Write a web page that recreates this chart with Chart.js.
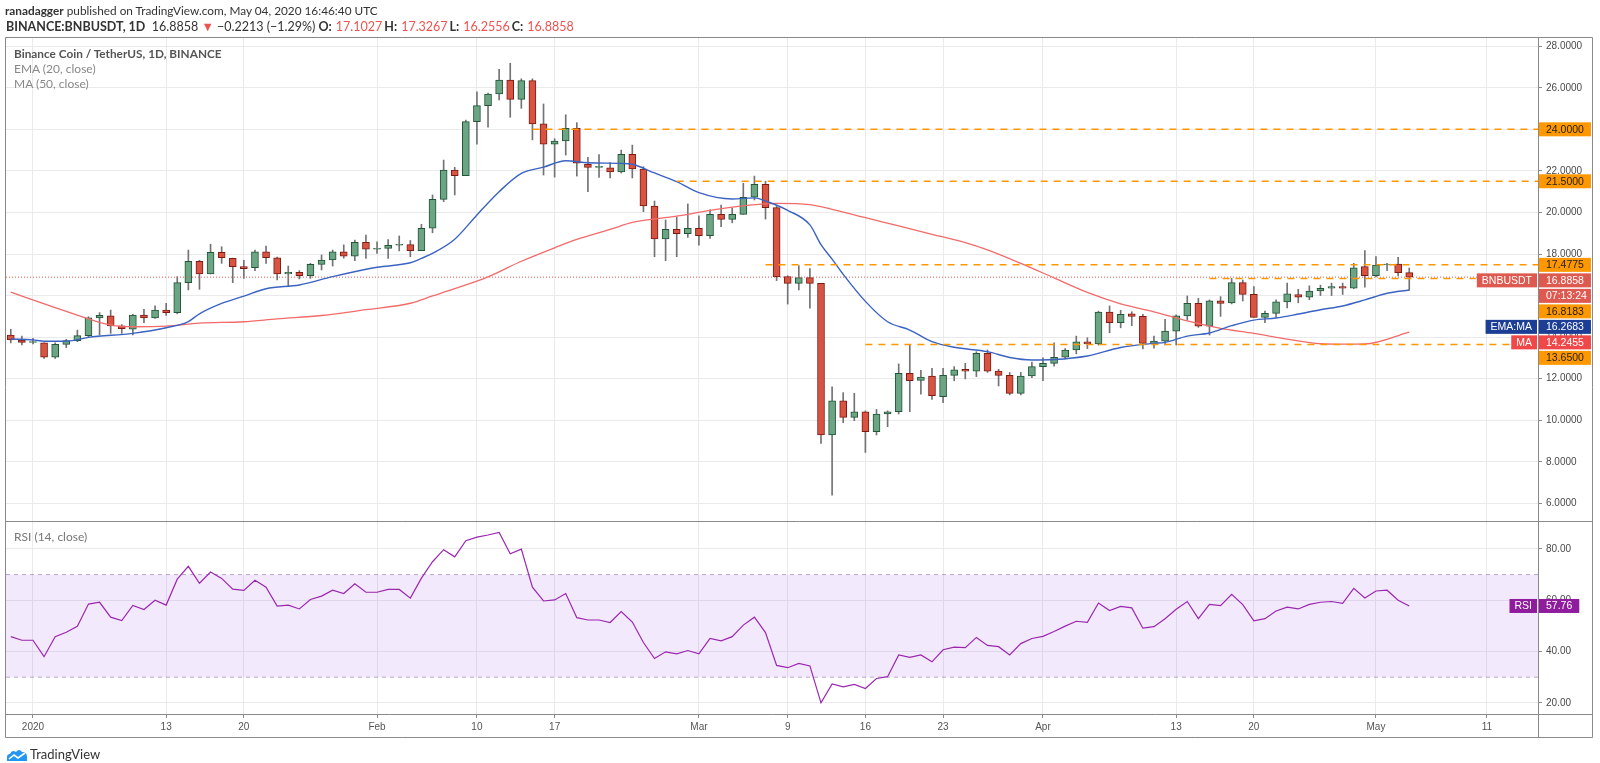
<!DOCTYPE html>
<html>
<head>
<meta charset="utf-8">
<title>BNBUSDT 1D</title>
<script src="https://cdn.jsdelivr.net/npm/chart.js@4.4.1/dist/chart.umd.min.js"></script>
<style>
  html, body { margin: 0; padding: 0; background: #fff; }
  #wrap { position: relative; width: 1600px; height: 763px; overflow: hidden; font-family: Lato, "Open Sans", sans-serif; color: #333; }
  #chart { position: absolute; left: 0; top: 0; }
  .txt { position: absolute; white-space: nowrap; line-height: 14px; font-size: 12px; }
  .red { color: #ef5350; }
  .v { color: #ef5350; margin-left: 4px; margin-right: 2px; }
</style>
</head>
<body>
<div id="wrap">
  <canvas id="chart" width="1600" height="763"></canvas>
  <div class="txt" style="left:5px;top:4px;font-size:11.8px;"><b>ranadagger</b> published on TradingView.com, May 04, 2020 16:46:40 UTC</div>
  <div class="txt" style="left:6px;top:20px;font-size:12.5px;"><b>BINANCE:BNBUSDT, 1D</b>&nbsp; 16.8858 <span class="red">▼</span> −0.2213 (−1.29%) <b>O:</b><span class="v">17.1027</span><b>H:</b><span class="v">17.3267</span><b>L:</b><span class="v">16.2556</span><b>C:</b><span class="v">16.8858</span></div>
  <div class="txt" style="left:14px;top:47px;font-weight:bold;color:#555;font-size:11.8px;">Binance Coin / TetherUS, 1D, BINANCE</div>
  <div class="txt" style="left:14px;top:62px;color:#888;">EMA (20, close)</div>
  <div class="txt" style="left:14px;top:77px;color:#888;">MA (50, close)</div>
  <div class="txt" style="left:14px;top:530px;color:#777;">RSI (14, close)</div>
  <div class="txt" style="left:6px;top:747px;font-size:13px;color:#333;"><svg width="22" height="14" viewBox="0 0 22 14" style="vertical-align:-3px;margin-right:2px"><path d="M1 13 L1 9 Q1 6 4 6 Q6 1 10 4 Q13 0 16 4 Q21 4 21 9 L21 13 Z" fill="#2196f3"/><path d="M3 11 L8 7 L12 10 L19 5" stroke="#fff" stroke-width="1.6" fill="none"/></svg>TradingView</div>
</div>
<script>
// days counted from Jan 1, 2020; first candle is Dec 30, 2019
const day0 = -2;

const opens = [
  14.10, 13.86, 13.74, 13.72, 13.03, 13.65, 13.83, 14.07, 14.93, 15.02,
  14.54, 14.38, 15.06, 14.93, 15.30, 15.18, 16.62, 17.65, 17.04, 18.08,
  17.79, 17.39, 17.34, 18.11, 17.82, 17.04, 17.12, 16.96, 17.50, 17.71,
  18.10, 17.90, 18.56, 18.23, 18.27, 18.42, 18.45, 18.16, 19.24, 20.63,
  22.04, 21.77, 24.37, 25.14, 25.70, 26.37, 25.44, 26.34, 24.26, 23.29,
  23.44, 24.05, 22.32, 22.17, 22.15, 21.95, 22.80, 22.09, 20.31, 18.72,
  19.19, 18.98, 19.24, 18.88, 19.91, 19.67, 19.91, 20.73, 21.35, 20.23,
  16.91, 16.59, 16.86, 16.59, 9.29, 10.93, 10.14, 10.41, 9.45, 10.30,
  10.41, 12.26, 11.92, 12.13, 11.13, 12.16, 12.45, 12.36, 13.22, 12.36,
  12.16, 11.29, 12.13, 12.58, 12.74, 13.03, 13.38, 13.77, 13.67, 15.21,
  14.70, 15.12, 15.00, 13.70, 13.81, 14.29, 15.02, 15.63, 14.53, 15.75,
  15.65, 16.62, 16.06, 14.95, 15.14, 15.70, 16.05, 15.92, 16.22, 16.35,
  16.43, 16.35, 17.39, 16.96, 17.47, 17.52, 17.1027
];
const highs = [
  14.38, 14.05, 13.94, 13.72, 13.72, 13.89, 14.34, 14.98, 15.18, 15.30,
  14.60, 15.10, 15.34, 15.50, 15.63, 16.91, 18.19, 17.70, 18.47, 18.35,
  17.80, 17.70, 18.19, 18.38, 17.85, 17.42, 17.20, 17.55, 17.95, 18.19,
  18.44, 18.67, 18.91, 18.59, 18.70, 18.87, 18.65, 19.43, 20.84, 22.52,
  22.17, 24.45, 25.81, 25.75, 26.89, 27.18, 26.43, 26.43, 25.22, 23.55,
  24.70, 24.32, 22.65, 22.79, 22.40, 23.00, 23.24, 22.20, 20.55, 19.64,
  19.77, 20.41, 19.84, 20.12, 20.36, 20.20, 21.40, 21.75, 21.50, 20.35,
  16.95, 17.44, 17.30, 16.59, 11.61, 11.33, 11.30, 10.45, 10.52, 10.45,
  12.71, 13.65, 12.40, 12.50, 12.50, 12.58, 12.74, 13.30, 13.38, 12.45,
  12.30, 12.30, 12.80, 13.00, 13.73, 13.45, 14.05, 13.97, 15.25, 15.50,
  15.29, 15.22, 15.10, 14.05, 14.86, 15.07, 15.98, 15.87, 15.79, 15.95,
  16.83, 16.75, 16.43, 15.25, 15.80, 16.60, 16.30, 16.47, 16.50, 16.60,
  16.60, 17.55, 18.16, 17.87, 17.55, 17.84, 17.3267
];
const lows = [
  13.72, 13.62, 13.67, 12.98, 12.98, 13.49, 13.78, 14.02, 14.10, 14.18,
  14.18, 14.10, 14.69, 14.90, 15.05, 15.12, 16.27, 16.30, 17.04, 17.55,
  16.62, 16.83, 17.20, 17.55, 16.75, 16.43, 16.80, 16.83, 17.23, 17.42,
  17.80, 17.68, 17.79, 18.03, 17.79, 18.15, 17.87, 18.16, 19.02, 20.52,
  20.84, 21.77, 23.29, 24.10, 25.41, 24.58, 25.01, 23.49, 21.80, 21.70,
  22.76, 21.75, 21.00, 21.68, 21.66, 21.90, 21.66, 20.04, 17.87, 17.68,
  17.87, 18.80, 18.43, 18.75, 19.31, 19.50, 19.91, 20.60, 19.68, 16.72,
  15.59, 16.27, 15.39, 8.89, 6.40, 9.88, 9.98, 8.45, 9.29, 9.69,
  10.30, 10.41, 11.26, 11.00, 10.84, 11.90, 11.99, 12.10, 12.30, 11.65,
  11.22, 11.22, 12.05, 11.90, 12.60, 12.95, 13.20, 13.45, 13.62, 14.21,
  14.45, 14.55, 13.43, 13.47, 13.62, 13.62, 14.82, 14.47, 14.10, 15.00,
  15.60, 15.74, 14.95, 14.70, 14.95, 15.40, 15.65, 15.80, 16.00, 16.00,
  16.05, 16.33, 16.40, 16.90, 17.20, 16.95, 16.2556
];
const closes = [
  13.86, 13.74, 13.78, 13.03, 13.65, 13.83, 14.07, 14.93, 15.05, 14.54,
  14.41, 15.06, 14.93, 15.30, 15.18, 16.62, 17.65, 17.04, 18.08, 17.82,
  17.39, 17.29, 18.11, 17.82, 17.04, 17.12, 16.96, 17.50, 17.71, 18.10,
  17.90, 18.56, 18.23, 18.27, 18.42, 18.45, 18.16, 19.24, 20.63, 22.04,
  21.77, 24.37, 25.14, 25.70, 26.37, 25.44, 26.34, 24.26, 23.29, 23.44,
  24.05, 22.37, 22.17, 22.17, 21.95, 22.80, 22.09, 20.31, 18.72, 19.19,
  18.98, 19.24, 18.88, 19.91, 19.67, 19.91, 20.73, 21.35, 20.23, 16.91,
  16.59, 16.86, 16.59, 9.29, 10.93, 10.14, 10.41, 9.45, 10.30, 10.41,
  12.26, 11.90, 12.08, 11.18, 12.16, 12.42, 12.36, 13.22, 12.36, 12.16,
  11.29, 12.13, 12.58, 12.74, 13.03, 13.38, 13.77, 13.67, 15.21, 14.70,
  15.10, 15.00, 13.70, 13.81, 14.29, 15.02, 15.63, 14.53, 15.75, 15.62,
  16.62, 16.06, 14.95, 15.14, 15.70, 16.08, 15.92, 16.22, 16.35, 16.43,
  16.35, 17.34, 16.96, 17.47, 17.51, 17.10, 16.8858
];

// RSI (14, close), one value per candle
const rsiVals = [
  45.8, 44.4, 44.4, 38.0, 45.8, 47.5, 49.8, 58.5, 59.2, 53.4,
  52.1, 58.0, 56.4, 60.0, 58.1, 68.2, 73.2, 66.6, 71.0, 68.5,
  64.3, 63.8, 67.8, 65.1, 57.7, 58.1, 56.6, 60.3, 61.6, 63.9,
  62.6, 66.4, 63.1, 63.1, 64.2, 64.2, 60.8, 68.6, 75.0, 79.7,
  76.9, 83.2, 84.6, 85.4, 86.4, 78.1, 79.9, 65.1, 59.7, 60.1,
  62.6, 53.2, 52.3, 52.3, 51.3, 55.6, 51.5, 43.5, 37.3, 39.9,
  39.1, 40.4, 39.1, 45.1, 44.2, 45.8, 50.3, 53.4, 47.4, 34.6,
  33.7, 35.4, 34.4, 20.0, 27.4, 26.2, 27.2, 25.6, 29.5, 30.2,
  38.7, 37.7, 38.7, 36.0, 40.7, 41.7, 41.5, 45.5, 42.4, 41.9,
  38.7, 43.1, 45.1, 45.9, 47.8, 49.9, 51.8, 51.4, 58.9, 56.0,
  57.6, 57.0, 49.1, 49.7, 52.8, 56.5, 59.5, 52.8, 58.4, 57.9,
  62.3, 58.3, 52.0, 52.8, 55.8, 57.3, 56.6, 58.4, 59.2, 59.5,
  58.8, 64.6, 60.9, 63.6, 63.9, 60.0, 57.76
];

// EMA (20) and MA (50) at these days
const emaDays = [-2, 0, 1, 3, 5, 9, 12, 14, 15, 17, 19, 21, 24, 27, 31, 34, 35, 36, 38, 40, 42, 44, 46, 48, 50, 53, 54, 56, 58, 60, 63, 65, 66, 68, 70, 71, 72, 73, 75, 77, 79, 81, 83, 86, 88, 90, 92, 95, 98, 101, 102, 104, 106, 108, 110, 112, 114, 116, 118, 120, 122, 124];
const emaVals = [13.91, 13.87, 13.80, 13.80, 13.99, 14.18, 14.45, 14.75, 15.12, 15.62, 15.97, 16.33, 16.51, 16.91, 17.36, 17.58, 17.79, 18.03, 18.71, 19.88, 21.00, 21.88, 22.18, 22.49, 22.39, 22.36, 22.32, 21.90, 21.48, 20.95, 20.65, 20.70, 20.55, 20.10, 19.40, 18.45, 17.75, 17.02, 15.72, 14.74, 14.34, 13.78, 13.51, 13.30, 13.02, 12.90, 12.92, 13.09, 13.50, 13.70, 13.75, 14.05, 14.20, 14.55, 14.82, 14.92, 15.11, 15.32, 15.50, 15.79, 16.11, 16.2683];
const maDays = [-2, 2, 5, 7, 9, 12, 15, 19, 22, 26, 30, 34, 36, 38, 41, 44, 47, 49, 52, 54, 58, 61, 64, 67, 70, 72, 75, 78, 81, 84, 86, 89, 92, 95, 98, 101, 104, 107, 110, 113, 116, 118, 120, 124];
const maVals = [16.16, 15.42, 14.88, 14.58, 14.50, 14.53, 14.67, 14.74, 14.88, 15.04, 15.32, 15.63, 15.98, 16.33, 16.90, 17.65, 18.30, 18.70, 19.18, 19.52, 19.82, 20.10, 20.32, 20.44, 20.38, 20.15, 19.75, 19.35, 18.95, 18.55, 18.20, 17.55, 16.85, 16.15, 15.60, 15.22, 14.78, 14.42, 14.18, 13.90, 13.68, 13.66, 13.67, 14.2455];

// horizontal levels drawn by the author (start day, optional end day)
const levelVals = [24.0, 21.5, 17.4775, 16.8183, 13.65];
const levelFrom = [45, 58, 66, 106, 75];
const levelTo = [null, null, null, 130, null];
const lastPrice = 16.8858;
const timerText = '07:13:24';

const priceTicks = [6, 8, 10, 12, 14, 16, 18, 20, 22, 24, 26, 28];
const rsiTicks = [20, 40, 60, 80];
const rsiBand = [70, 30];
const xTickDays = [0, 12, 19, 31, 40, 47, 60, 68, 75, 82, 91, 103, 110, 121, 131];
const xTickLabels = ['2020', '13', '20', 'Feb', '10', '17', 'Mar', '9', '16', '23', 'Apr', '13', '20', 'May', '11'];

// visible ranges of the panes
const xMin = -2.43, xMax = 135.6;
const priceMin = 5.151, priceMax = 28.395;
const rsiMin = 15.66, rsiMax = 90.87;

const GREEN = '#6ba583', GREEN_EDGE = '#225437';
const RED = '#d75442', RED_EDGE = '#7f1a12';
const ORANGE = '#ff9800';
const tickFont = { family: '"Liberation Sans", Arial, sans-serif', size: 10 };

const days = closes.map((c, i) => day0 + i);
const up = closes.map((c, i) => c >= opens[i]);

const wickData = days.map((d, i) => ({ x: d, y: [lows[i], highs[i]] }));
const bodyData = days.map((d, i) => ({ x: d, y: [opens[i], closes[i]] }));

const levelSets = levelVals.map((v, k) => ({
  type: 'line',
  data: [{ x: levelFrom[k], y: v }, { x: levelTo[k] == null ? xMax : levelTo[k], y: v }],
  borderColor: ORANGE, borderWidth: 1.5, borderDash: [7, 6],
  pointRadius: 0, yAxisID: 'y', order: 1
}));

const priceTags = levelVals.map(v => ({ v: v, txt: v.toFixed(4), bg: ORANGE, fg: '#1e1e1e' }));
priceTags.push({ v: lastPrice, txt: lastPrice.toFixed(4), name: 'BNBUSDT', extra: timerText, bg: '#de5a50', fg: '#fff' });
priceTags.push({ v: emaVals[emaVals.length - 1], txt: emaVals[emaVals.length - 1].toFixed(4), name: 'EMA:MA', bg: '#1c3e94', fg: '#fff' });
priceTags.push({ v: maVals[maVals.length - 1], txt: maVals[maVals.length - 1].toFixed(4), name: 'MA', bg: '#f04848', fg: '#fff' });
const rsiTags = [{ v: rsiVals[rsiVals.length - 1], txt: rsiVals[rsiVals.length - 1].toFixed(2), name: 'RSI', bg: '#8e1c9c', fg: '#fff' }];

// frame, pane separator and the coloured value tags on the price axis
const overlay = {
  id: 'overlay',
  afterDraw(chart) {
    const { ctx, chartArea: a, scales } = chart;
    const py = scales.y, pr = scales.yRsi, sx = scales.x;
    const edge = py.right, foot = sx.bottom;
    ctx.save();
    ctx.strokeStyle = '#8a8a8a';
    ctx.lineWidth = 1;
    ctx.beginPath();
    ctx.rect(a.left - 0.5, a.top - 0.5, edge - a.left, foot - a.top);
    ctx.moveTo(a.left, py.bottom + 0.5); ctx.lineTo(edge, py.bottom + 0.5);
    ctx.moveTo(a.right, a.bottom + 0.5); ctx.lineTo(edge, a.bottom + 0.5);
    ctx.moveTo(a.right + 0.5, a.bottom); ctx.lineTo(a.right + 0.5, foot);
    ctx.stroke();

    ctx.font = '10.5px "Liberation Sans", Arial, sans-serif';
    ctx.textBaseline = 'middle';
    ctx.textAlign = 'left';
    const H = 14, STEP = 15.5;
    [{ scale: py, tags: priceTags }, { scale: pr, tags: rsiTags }].forEach(g => {
      const list = g.tags.map(t => Object.assign({}, t, { cy: g.scale.getPixelForValue(t.v) }))
        .sort((p, q) => p.cy - q.cy);
      let last = -1e9;
      list.forEach(t => {
        t.cy = Math.max(t.cy, last + STEP);
        const w = ctx.measureText(t.txt).width + 14;
        const rows = t.extra ? [t.txt, t.extra] : [t.txt];
        rows.forEach((s, k) => {
          const cy = t.cy + k * STEP;
          ctx.fillStyle = t.bg;
          ctx.fillRect(a.right + 1, cy - H / 2, w, H);
          ctx.fillStyle = t.fg;
          ctx.fillText(s, a.right + 8, cy + 0.5);
        });
        if (t.name) {
          const nw = ctx.measureText(t.name).width + 10;
          ctx.fillStyle = t.bg;
          ctx.fillRect(a.right - nw - 1, t.cy - H / 2, nw, H);
          ctx.fillStyle = t.fg;
          ctx.fillText(t.name, a.right - nw + 4, t.cy + 0.5);
        }
        last = t.cy + (rows.length - 1) * STEP;
      });
    });
    ctx.restore();
  }
};

new Chart(document.getElementById('chart'), {
  type: 'bar',
  data: {
    datasets: [
      ...levelSets,
      {
        type: 'line', label: 'EMA', data: emaDays.map((d, i) => ({ x: d, y: emaVals[i] })),
        borderColor: '#3a63c2', borderWidth: 1.4, pointRadius: 0, cubicInterpolationMode: 'monotone',
        yAxisID: 'y', order: 2
      },
      {
        type: 'line', label: 'MA', data: maDays.map((d, i) => ({ x: d, y: maVals[i] })),
        borderColor: '#f26b6b', borderWidth: 1.3, pointRadius: 0, cubicInterpolationMode: 'monotone',
        yAxisID: 'y', order: 3
      },
      {
        type: 'line', label: 'last', data: [{ x: xMin, y: lastPrice }, { x: xMax, y: lastPrice }],
        borderColor: '#de5a50', borderWidth: 1, borderDash: [1, 2], pointRadius: 0,
        yAxisID: 'y', order: 4
      },
      {
        type: 'bar', label: 'body', data: bodyData, grouped: false, barThickness: 7, minBarLength: 1,
        backgroundColor: up.map(u => u ? GREEN : RED),
        borderColor: up.map(u => u ? GREEN_EDGE : RED_EDGE),
        borderWidth: 1, borderSkipped: false, yAxisID: 'y', order: 5
      },
      {
        type: 'bar', label: 'wick', data: wickData, grouped: false, barThickness: 1,
        backgroundColor: '#737375', borderWidth: 0, yAxisID: 'y', order: 6
      },
      {
        type: 'line', label: 'RSI', data: days.map((d, i) => ({ x: d, y: rsiVals[i] })),
        borderColor: '#9b27b0', borderWidth: 1.2, pointRadius: 0, yAxisID: 'yRsi', order: 7
      },
      {
        type: 'line', label: 'upper', data: [{ x: xMin, y: rsiBand[0] }, { x: xMax, y: rsiBand[0] }],
        borderColor: 'rgba(130,110,150,0.55)', borderWidth: 1, borderDash: [4, 4], pointRadius: 0,
        fill: '+1', backgroundColor: 'rgba(155,85,235,0.13)', yAxisID: 'yRsi', order: 8
      },
      {
        type: 'line', label: 'lower', data: [{ x: xMin, y: rsiBand[1] }, { x: xMax, y: rsiBand[1] }],
        borderColor: 'rgba(130,110,150,0.55)', borderWidth: 1, borderDash: [4, 4], pointRadius: 0,
        fill: false, yAxisID: 'yRsi', order: 9
      }
    ]
  },
  options: {
    responsive: false,
    animation: false,
    layout: { padding: { left: 6, top: 38, right: 7, bottom: 25 } },
    plugins: { legend: { display: false }, tooltip: { enabled: false } },
    scales: {
      x: {
        type: 'linear', min: xMin, max: xMax, offset: false, bounds: 'data',
        afterBuildTicks: s => { s.ticks = xTickDays.map(v => ({ value: v })); },
        afterFit: s => { s.height = 24; },
        ticks: { autoSkip: false, maxRotation: 0, color: '#555', font: tickFont, padding: 3,
          callback: (v, i) => xTickLabels[i] },
        grid: { offset: false, color: '#eaeaed', tickColor: '#8a8a8a', tickLength: 4 },
        border: { display: true, color: '#8a8a8a' }
      },
      y: {
        type: 'linear', axis: 'y', position: 'right', stack: 'panes', stackWeight: 483,
        min: priceMin, max: priceMax, bounds: 'data', beginAtZero: false,
        afterBuildTicks: s => { s.ticks = priceTicks.map(v => ({ value: v })); },
        afterFit: s => { s.width = 55; },
        ticks: { color: '#4a4a4a', font: tickFont, padding: 4, callback: v => Number(v).toFixed(4) },
        grid: { color: '#eaeaed', tickColor: '#8a8a8a', tickLength: 4 },
        border: { display: true, color: '#8a8a8a' }
      },
      yRsi: {
        type: 'linear', axis: 'y', position: 'right', stack: 'panes', stackWeight: 193,
        min: rsiMin, max: rsiMax, bounds: 'data',
        afterBuildTicks: s => { s.ticks = rsiTicks.map(v => ({ value: v })); },
        afterFit: s => { s.width = 55; },
        ticks: { color: '#4a4a4a', font: tickFont, padding: 4, callback: v => Number(v).toFixed(2) },
        grid: { color: '#eaeaed', tickColor: '#8a8a8a', tickLength: 4 },
        border: { display: true, color: '#8a8a8a' }
      }
    }
  },
  plugins: [overlay]
});
</script>
</body>
</html>
